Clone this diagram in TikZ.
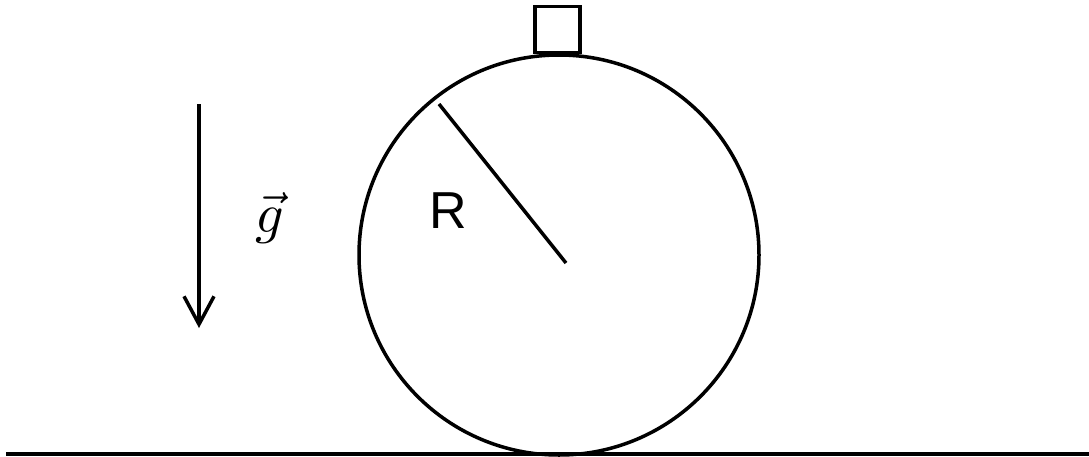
\documentclass[tikz,border=0pt]{standalone}
\usepackage{fontspec}
\setmainfont{Liberation Sans}
\usetikzlibrary{arrows.meta}
\begin{document}
\begin{tikzpicture}[x=1pt,y=-1pt,
  thick line/.style={line width=3.5pt},
  lbl/.style={inner sep=0pt}]
\useasboundingbox (0,0) rectangle (1089,456);
\node[circle, draw, thick line, minimum size=400pt, inner sep=0pt] (wheel) at (559,255) {};
\node[rectangle, draw, thick line, minimum width=45pt, minimum height=46pt, inner sep=0pt, anchor=south] (box) at (557.5,54) {};
\coordinate (rimpt) at (439,104);
\coordinate (rend) at (566,263);
\draw[thick line] (rimpt) -- (rend);
\node[lbl, font=\fontsize{52}{52}\selectfont] (R) at (448,211) {R};
\coordinate (gtop) at (199,104);
\coordinate (gbot) at (199,328);
\draw[thick line, -{Straight Barb[length=28pt,width=30pt]}] (gtop) -- (gbot);
\node[lbl] (g) at (270,218) {\scalebox{5.6}{$\vec{g}$}};
\coordinate (gl) at (6,454);
\coordinate (gr) at (1089,454);
\draw[thick line] (gl) -- (gr);
\end{tikzpicture}
\end{document}
